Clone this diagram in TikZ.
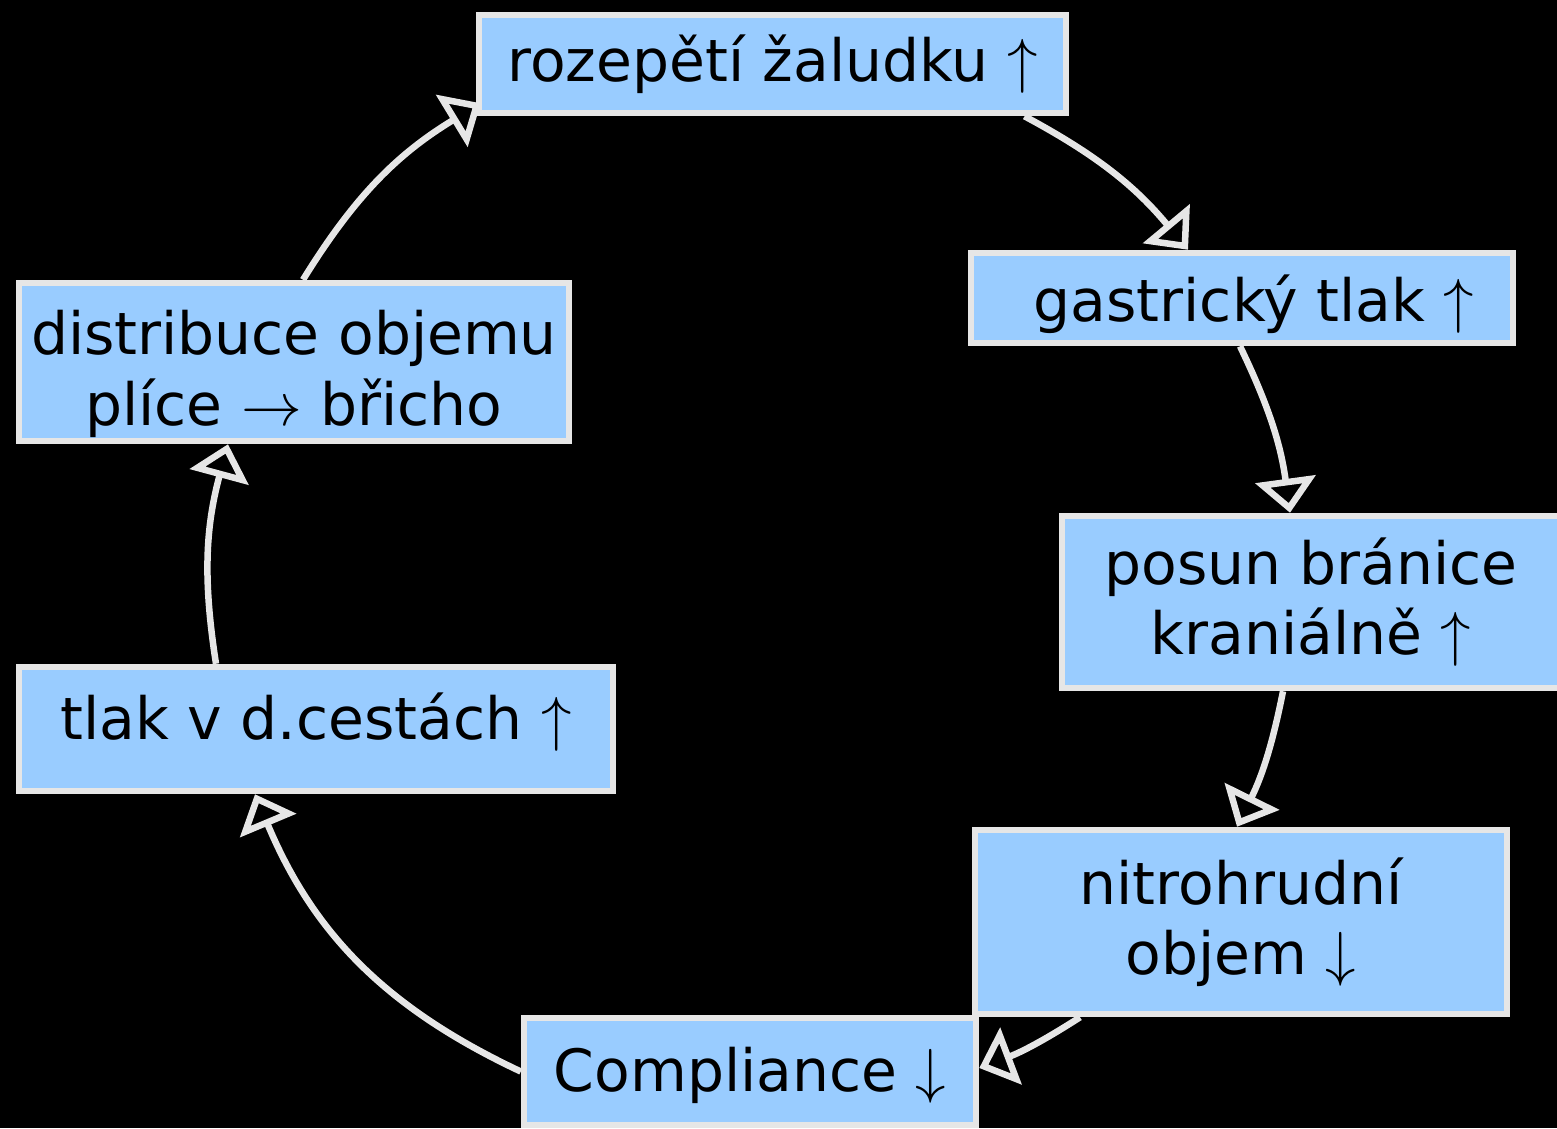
\documentclass[tikz,border=0pt]{standalone}
\usepackage{fontspec}
\setmainfont{DejaVu Sans}
\usepackage{xcolor}
\usetikzlibrary{arrows.meta}
\definecolor{BoxFill}{HTML}{99CCFF}
\definecolor{BoxEdge}{HTML}{E6E6E6}
\newcommand{\lowered}[2]{\raisebox{#1}[\height][\depth]{#2}}
\tikzset{
    cyclebox/.style={
        draw=BoxEdge,
        fill=BoxFill,
        line width=0.065cm,
        text=black,
        align=center,
        inner sep=0pt,
        font=\fontsize{16.6}{20}\selectfont
    },
    cyclearrow/.style={
        draw=BoxEdge,
        line width=0.065cm,
        -{Triangle[open,length=0.34cm,width=0.6cm]}
    }
}

\begin{document}
\begin{tikzpicture}
        \fill[black] (0,0) rectangle (15.57,11.28);
        \useasboundingbox (0,0) rectangle (15.57,11.28);

        \node[cyclebox, minimum width=5.87cm, minimum height=0.98cm] (c1) at (7.725,10.64) {rozepětí žaludku $\uparrow$};
        \node[cyclebox, minimum width=5.42cm, minimum height=0.90cm] (c2) at (12.42,8.30) {\hspace*{0.24cm}\lowered{-0.06cm}{gastrický tlak $\uparrow$}};
        \node[cyclebox, minimum width=4.98cm, minimum height=1.72cm] (c3) at (13.11,5.26) {posun bránice\\kraniálně $\uparrow$};
        \node[cyclebox, minimum width=5.32cm, minimum height=1.84cm] (c4) at (12.41,2.06) {nitrohrudní\\objem $\downarrow$};
        \node[cyclebox, minimum width=4.52cm, minimum height=1.07cm] (c5) at (7.50,0.565) {\lowered{-0.04cm}{Compliance $\downarrow$}};
        \node[cyclebox, minimum width=5.94cm, minimum height=1.24cm] (c6) at (3.16,3.99) {\lowered{0.07cm}{tlak v d.cestách $\uparrow$}};
        \node[cyclebox, minimum width=5.50cm, minimum height=1.58cm] (c7) at (2.94,7.66) {\lowered{-0.12cm}{distribuce objemu}\\\lowered{-0.12cm}{plíce $\rightarrow$ břicho}};

        % arrows around the loop
        \draw[cyclearrow] ([xshift=2.52cm]c1.south) to[bend left=11] ([xshift=-0.54cm]c2.north);
        \draw[cyclearrow] ([xshift=-0.02cm]c2.south) to[bend left=9] ([xshift=-0.21cm]c3.north);
        \draw[cyclearrow] ([xshift=-0.28cm]c3.south) to[bend left=7.5] ([xshift=-0.04cm]c4.north);
        \draw[cyclearrow] ([xshift=-1.61cm]c4.south) to[bend left=6] ([yshift=0.035cm]c5.east);
        \draw[cyclearrow] (c5.west) to[bend left=21] ([xshift=-0.61cm]c6.south);
        \draw[cyclearrow] ([xshift=-1.0cm]c6.north) to[bend left=12] ([xshift=-0.66cm]c7.south);
        \draw[cyclearrow] ([xshift=0.09cm]c7.north) to[bend left=13.5] ([xshift=0.05cm,yshift=0.13cm]c1.south west);
    \end{tikzpicture}
\end{document}
